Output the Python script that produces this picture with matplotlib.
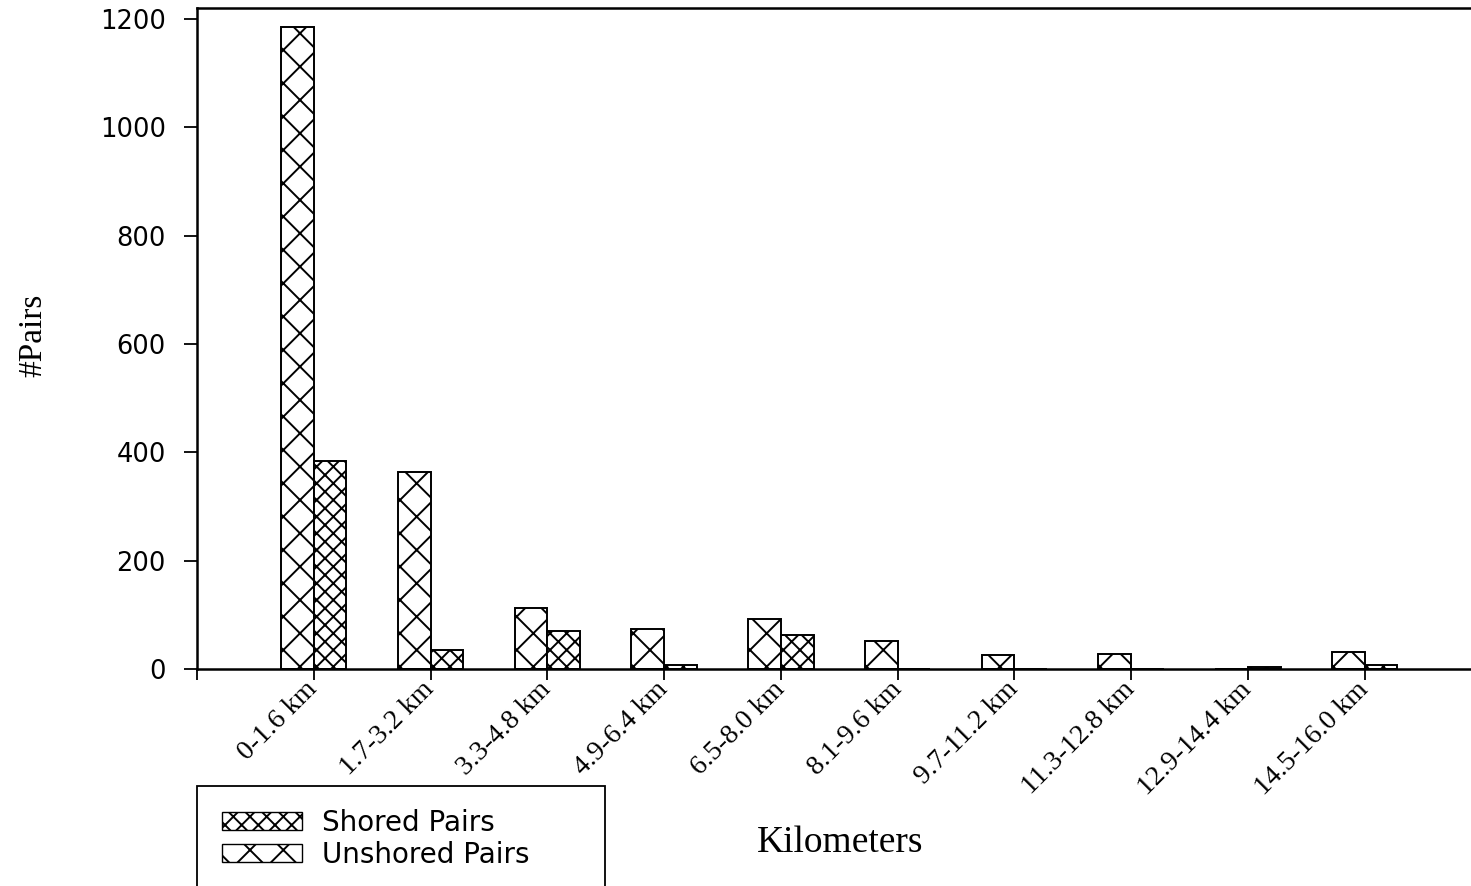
import numpy as np
import matplotlib
matplotlib.use("Agg")
import matplotlib.pyplot as plt
from matplotlib.patches import Rectangle, Patch

# distance bins and pair counts
bins = ["0-1.6 km", "1.7-3.2 km", "3.3-4.8 km", "4.9-6.4 km", "6.5-8.0 km",
        "8.1-9.6 km", "9.7-11.2 km", "11.3-12.8 km", "12.9-14.4 km", "14.5-16.0 km"]
unshored = [1185, 364, 112, 73, 92, 52, 26, 28, 0, 31]
shored = [384, 35, 71, 8, 63, 0, 0, 0, 4, 7]

plt.rcParams['hatch.linewidth'] = 1.4
sans = "DejaVu Sans"
serif = "Liberation Serif"

fig = plt.figure(figsize=(14.71, 8.86), dpi=100)
W, H = 1471, 886
ax = fig.add_axes([197 / W, 1 - 669 / H, 1 - 197 / W, (669 - 8) / H])

x = np.arange(len(bins))
w = 0.28
ax.bar(x - w / 2, unshored, w, color="white", edgecolor="black", hatch="x", linewidth=1.4)
ax.bar(x + w / 2, shored, w, color="white", edgecolor="black", hatch="xx", linewidth=1.4)

ax.set_xlim(-1.0, 9.91)
ax.set_ylim(0, 1220)
ax.spines['right'].set_visible(False)
for s in ['left', 'top', 'bottom']:
    ax.spines[s].set_linewidth(1.8)

ax.set_yticks([0, 200, 400, 600, 800, 1000, 1200])
ax.tick_params(axis='y', direction='out', length=9.5, width=1.3, pad=13, labelsize=18.5)
for t in ax.get_yticklabels():
    t.set_fontfamily(sans)

ax.set_xticks(np.concatenate([[-1], x]))
ax.set_xticklabels([""] + bins, rotation=45, ha="right", va="center", rotation_mode="anchor",
                   fontfamily=serif, fontsize=20)
ax.tick_params(axis='x', direction='out', length=8, width=1.3, pad=4)

fig.text(33 / W, 1 - 335 / H, "#Pairs", rotation=90, ha="center", va="center",
         fontfamily=serif, fontsize=24)
fig.text(840 / W, 1 - 843 / H, "Kilometers", ha="center", va="center",
         fontfamily=serif, fontsize=27)

# legend box (runs off the bottom of the figure)
fig.patches.append(Rectangle((197 / W, -0.05), (605 - 197) / W, 0.05 + (886 - 786) / H,
                             transform=fig.transFigure, facecolor="white",
                             edgecolor="black", linewidth=1.3, zorder=0))
handles = [Patch(facecolor="white", edgecolor="black", hatch="xx", label="Shored Pairs"),
           Patch(facecolor="white", edgecolor="black", hatch="x", label="Unshored Pairs")]
fig.legend(handles=handles, loc="upper left", bbox_to_anchor=(208 / W, 1 - 795 / H),
           frameon=False, prop={"family": sans, "size": 20}, handlelength=2.9,
           handleheight=0.6, handletextpad=0.7, labelspacing=0.15, borderpad=0)

fig.savefig("out.png", dpi=100)
